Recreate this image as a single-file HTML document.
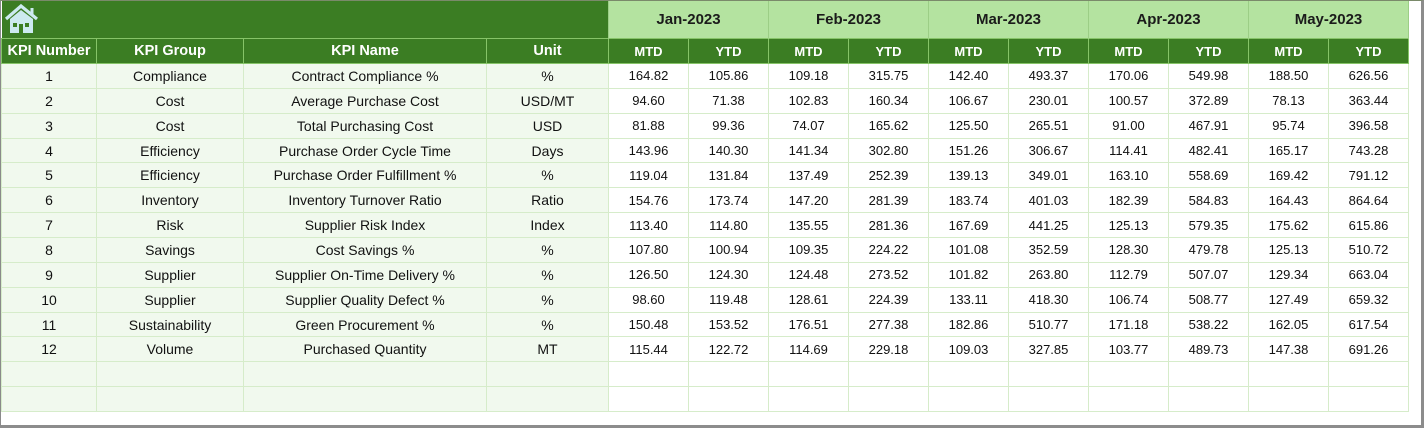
<!DOCTYPE html>
<html><head><meta charset="utf-8">
<style>
html,body{margin:0;padding:0;}
body{width:1424px;height:428px;overflow:hidden;background:#fff;position:relative;font-family:"Liberation Sans",Arial,sans-serif;}
.frame{position:absolute;left:0;top:0;width:1424px;height:428px;box-sizing:border-box;border-left:1px solid #8a8a8a;border-top:1px solid #7a8a6a;border-right:3px solid #8c8c8c;border-bottom:3px solid #8c8c8c;}
table{position:absolute;left:1px;top:1px;border-collapse:collapse;table-layout:fixed;}
td{padding:0;text-align:center;vertical-align:middle;white-space:nowrap;overflow:hidden;}
.ban{background:#3b7d23;height:37px;}
.mon{background:#b4e3a0;color:#1b1b1b;font-weight:bold;font-size:15px;border-left:1px solid #9cce86;border-right:1px solid #9cce86;height:37px;}
.hd td{background:#3b7d23;color:#fff;font-weight:bold;font-size:14.5px;height:24px;border:1px solid #86c468;}
.hd td.m{font-size:13px;}
.r td{height:23.86px;border:1px solid #d6ecca;font-size:13px;color:#111;}
.r td.g{background:#f1f9ee;font-size:14px;}
.r td.w{background:#fff;}
</style></head><body>
<table>
<colgroup>
<col style="width:95px"><col style="width:147px"><col style="width:243px"><col style="width:122px">
<col style="width:80px"><col style="width:80px"><col style="width:80px"><col style="width:80px"><col style="width:80px"><col style="width:80px"><col style="width:80px"><col style="width:80px"><col style="width:80px"><col style="width:80px">
</colgroup>
<tr>
<td class="ban" colspan="4" style="text-align:left;position:relative;">
<svg width="40" height="37" viewBox="0 0 40 37" style="display:block;">
<polyline points="4,18 19,5 35,18" fill="none" stroke="#cdeaf0" stroke-width="3.2" stroke-linejoin="miter"/>
<rect x="28.5" y="7" width="3" height="6" fill="#cdeaf0"/>
<polygon points="8,18 19,9 31,18 31,32 8,32" fill="#cdeaf0"/>
<rect x="11" y="22" width="4" height="4" fill="#3b7d23"/>
<rect x="23" y="22" width="4" height="4" fill="#3b7d23"/>
<rect x="17" y="23" width="4" height="9" fill="#3b7d23"/>
</svg>
</td>
<td class="mon" colspan="2">Jan-2023</td>
<td class="mon" colspan="2">Feb-2023</td>
<td class="mon" colspan="2">Mar-2023</td>
<td class="mon" colspan="2">Apr-2023</td>
<td class="mon" colspan="2">May-2023</td>
</tr>
<tr class="hd">
<td>KPI Number</td><td>KPI Group</td><td>KPI Name</td><td>Unit</td>
<td class="m">MTD</td><td class="m">YTD</td><td class="m">MTD</td><td class="m">YTD</td><td class="m">MTD</td><td class="m">YTD</td><td class="m">MTD</td><td class="m">YTD</td><td class="m">MTD</td><td class="m">YTD</td>
</tr>
<tr class="r"><td class="g">1</td><td class="g">Compliance</td><td class="g">Contract Compliance %</td><td class="g">%</td><td class="w">164.82</td><td class="w">105.86</td><td class="w">109.18</td><td class="w">315.75</td><td class="w">142.40</td><td class="w">493.37</td><td class="w">170.06</td><td class="w">549.98</td><td class="w">188.50</td><td class="w">626.56</td></tr>
<tr class="r"><td class="g">2</td><td class="g">Cost</td><td class="g">Average Purchase Cost</td><td class="g">USD/MT</td><td class="w">94.60</td><td class="w">71.38</td><td class="w">102.83</td><td class="w">160.34</td><td class="w">106.67</td><td class="w">230.01</td><td class="w">100.57</td><td class="w">372.89</td><td class="w">78.13</td><td class="w">363.44</td></tr>
<tr class="r"><td class="g">3</td><td class="g">Cost</td><td class="g">Total Purchasing Cost</td><td class="g">USD</td><td class="w">81.88</td><td class="w">99.36</td><td class="w">74.07</td><td class="w">165.62</td><td class="w">125.50</td><td class="w">265.51</td><td class="w">91.00</td><td class="w">467.91</td><td class="w">95.74</td><td class="w">396.58</td></tr>
<tr class="r"><td class="g">4</td><td class="g">Efficiency</td><td class="g">Purchase Order Cycle Time</td><td class="g">Days</td><td class="w">143.96</td><td class="w">140.30</td><td class="w">141.34</td><td class="w">302.80</td><td class="w">151.26</td><td class="w">306.67</td><td class="w">114.41</td><td class="w">482.41</td><td class="w">165.17</td><td class="w">743.28</td></tr>
<tr class="r"><td class="g">5</td><td class="g">Efficiency</td><td class="g">Purchase Order Fulfillment %</td><td class="g">%</td><td class="w">119.04</td><td class="w">131.84</td><td class="w">137.49</td><td class="w">252.39</td><td class="w">139.13</td><td class="w">349.01</td><td class="w">163.10</td><td class="w">558.69</td><td class="w">169.42</td><td class="w">791.12</td></tr>
<tr class="r"><td class="g">6</td><td class="g">Inventory</td><td class="g">Inventory Turnover Ratio</td><td class="g">Ratio</td><td class="w">154.76</td><td class="w">173.74</td><td class="w">147.20</td><td class="w">281.39</td><td class="w">183.74</td><td class="w">401.03</td><td class="w">182.39</td><td class="w">584.83</td><td class="w">164.43</td><td class="w">864.64</td></tr>
<tr class="r"><td class="g">7</td><td class="g">Risk</td><td class="g">Supplier Risk Index</td><td class="g">Index</td><td class="w">113.40</td><td class="w">114.80</td><td class="w">135.55</td><td class="w">281.36</td><td class="w">167.69</td><td class="w">441.25</td><td class="w">125.13</td><td class="w">579.35</td><td class="w">175.62</td><td class="w">615.86</td></tr>
<tr class="r"><td class="g">8</td><td class="g">Savings</td><td class="g">Cost Savings %</td><td class="g">%</td><td class="w">107.80</td><td class="w">100.94</td><td class="w">109.35</td><td class="w">224.22</td><td class="w">101.08</td><td class="w">352.59</td><td class="w">128.30</td><td class="w">479.78</td><td class="w">125.13</td><td class="w">510.72</td></tr>
<tr class="r"><td class="g">9</td><td class="g">Supplier</td><td class="g">Supplier On-Time Delivery %</td><td class="g">%</td><td class="w">126.50</td><td class="w">124.30</td><td class="w">124.48</td><td class="w">273.52</td><td class="w">101.82</td><td class="w">263.80</td><td class="w">112.79</td><td class="w">507.07</td><td class="w">129.34</td><td class="w">663.04</td></tr>
<tr class="r"><td class="g">10</td><td class="g">Supplier</td><td class="g">Supplier Quality Defect %</td><td class="g">%</td><td class="w">98.60</td><td class="w">119.48</td><td class="w">128.61</td><td class="w">224.39</td><td class="w">133.11</td><td class="w">418.30</td><td class="w">106.74</td><td class="w">508.77</td><td class="w">127.49</td><td class="w">659.32</td></tr>
<tr class="r"><td class="g">11</td><td class="g">Sustainability</td><td class="g">Green Procurement %</td><td class="g">%</td><td class="w">150.48</td><td class="w">153.52</td><td class="w">176.51</td><td class="w">277.38</td><td class="w">182.86</td><td class="w">510.77</td><td class="w">171.18</td><td class="w">538.22</td><td class="w">162.05</td><td class="w">617.54</td></tr>
<tr class="r"><td class="g">12</td><td class="g">Volume</td><td class="g">Purchased Quantity</td><td class="g">MT</td><td class="w">115.44</td><td class="w">122.72</td><td class="w">114.69</td><td class="w">229.18</td><td class="w">109.03</td><td class="w">327.85</td><td class="w">103.77</td><td class="w">489.73</td><td class="w">147.38</td><td class="w">691.26</td></tr>
<tr class="r"><td class="g"></td><td class="g"></td><td class="g"></td><td class="g"></td><td class="w"></td><td class="w"></td><td class="w"></td><td class="w"></td><td class="w"></td><td class="w"></td><td class="w"></td><td class="w"></td><td class="w"></td><td class="w"></td></tr>
<tr class="r"><td class="g"></td><td class="g"></td><td class="g"></td><td class="g"></td><td class="w"></td><td class="w"></td><td class="w"></td><td class="w"></td><td class="w"></td><td class="w"></td><td class="w"></td><td class="w"></td><td class="w"></td><td class="w"></td></tr>
</table>
<div class="frame"></div>
</body></html>
